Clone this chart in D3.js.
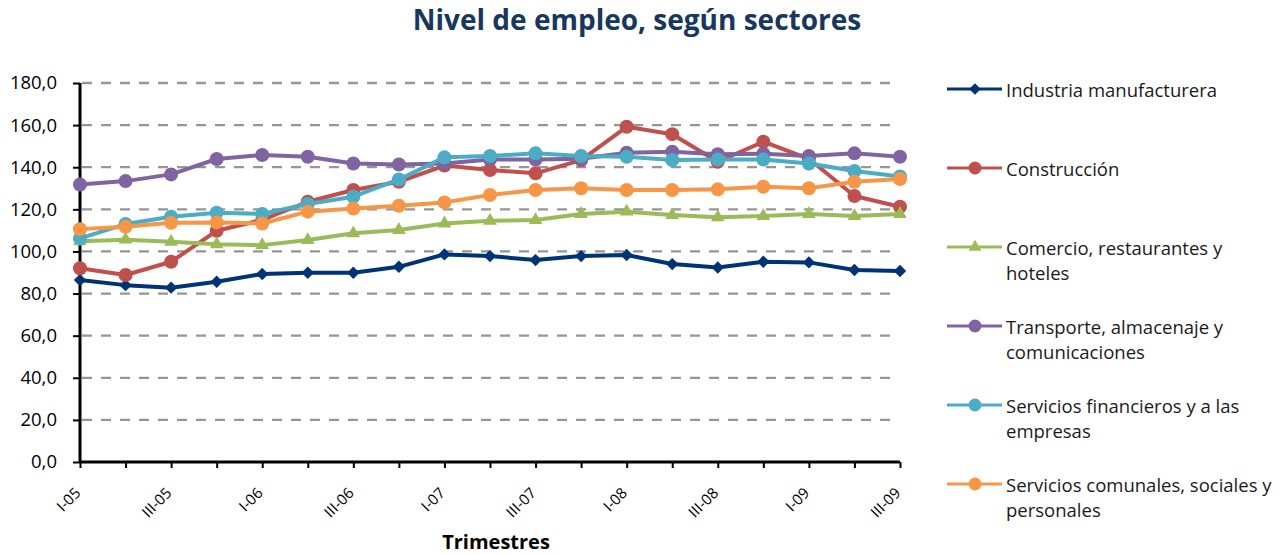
<!DOCTYPE html>
<html lang="es">
<head>
<meta charset="UTF-8">
<script src="https://d3js.org/d3.v7.min.js"></script>
<title>Nivel de empleo, según sectores</title>
<style>
  body { margin: 0; background: #fff; }
  text { font-family: "Open Sans", sans-serif; }
</style>
</head>
<body>
<script>
// quarters
var quarters = ["I-05","II-05","III-05","IV-05","I-06","II-06","III-06","IV-06",
                "I-07","II-07","III-07","IV-07","I-08","II-08","III-08","IV-08",
                "I-09","II-09","III-09"];
var yTicks = [0,20,40,60,80,100,120,140,160,180];

var industria   = [86.4,84.0,82.8,85.6,89.3,89.9,89.9,92.7,98.6,97.8,95.9,97.8,98.3,94.0,92.4,95.1,94.8,91.2,90.7];
var construccion= [92.0,88.8,95.1,109.8,115.0,123.6,129.2,133.1,140.8,138.7,137.1,143.4,159.2,155.7,142.6,152.1,144.0,126.3,121.2];
var comercio    = [104.8,105.6,104.6,103.4,103.0,105.4,108.6,110.2,113.3,114.6,114.9,117.8,118.9,117.3,116.2,116.8,117.8,116.8,117.8];
var transporte  = [131.8,133.4,136.6,143.9,145.8,145.0,141.8,141.3,141.8,143.7,143.7,144.0,146.9,147.4,146.2,146.4,145.3,146.6,145.0];
var financieros = [106.2,113.0,116.5,118.4,117.8,122.5,126.0,134.2,144.7,145.3,146.6,145.3,145.0,143.4,143.7,143.7,141.8,138.2,135.6];
var comunales   = [110.6,111.7,113.6,113.8,113.3,118.9,120.4,121.7,123.3,126.8,129.2,130.0,129.2,129.2,129.5,130.7,130.0,133.1,134.4];

var seriesNames = ["Industria manufacturera","Construcción","Comercio, restaurantes y hoteles",
                   "Transporte, almacenaje y comunicaciones","Servicios financieros y a las empresas",
                   "Servicios comunales, sociales y personales"];
var legendLines = [["Industria manufacturera"],["Construcción"],["Comercio, restaurantes y","hoteles"],
                   ["Transporte, almacenaje y","comunicaciones"],["Servicios financieros y a las","empresas"],
                   ["Servicios comunales, sociales y","personales"]];
var colors = ["#003376","#C0504D","#9BBB59","#8064A2","#4BACC6","#F79646"];
var shapes = ["diamond","circle","triangle","circle","circle","circle"];

var series = [industria, construccion, comercio, transporte, financieros, comunales].map(function(v,i){
  return {name: seriesNames[i], values: v, color: colors[i], shape: shapes[i], lines: legendLines[i]};
});

var width = 1283, height = 554;
var x0 = 80, x1 = 900, yTop = 83, yBot = 462;

var svg = d3.select("body").append("svg").attr("width", width).attr("height", height);

var x = d3.scalePoint().domain(quarters).range([x0, x1]);
var y = d3.scaleLinear().domain([0,180]).range([yBot, yTop]);

// title
svg.append("text").attr("x", 637).attr("y", 30).attr("text-anchor","middle")
   .style("font-size","28px").style("font-weight","bold").style("fill","#17375E")
   .text("Nivel de empleo, según sectores");

// gridlines
svg.append("g").selectAll("line").data(yTicks.filter(function(d){return d>0;})).enter().append("line")
   .attr("x1", 82).attr("x2", 894).attr("y1", function(d){return y(d);}).attr("y2", function(d){return y(d);})
   .style("stroke","#969696").style("stroke-width",2.3).style("stroke-dasharray","10,9");

// y axis
var yAxis = d3.axisLeft(y).tickValues(yTicks).tickSize(7).tickPadding(16)
   .tickFormat(function(d){ return d3.format(".1f")(d).replace(".", ","); });
var gy = svg.append("g").attr("transform","translate("+x0+",0)").call(yAxis);
gy.select(".domain").attr("d","M0,"+yTop+"V"+yBot).style("stroke","#000").style("stroke-width",3);
gy.selectAll(".tick line").style("stroke","#000").style("stroke-width",2);
gy.selectAll(".tick text").style("font-size","18.5px").style("fill","#000")
  .style("font-family","'Open Sans', sans-serif");

// x axis
var xAxis = d3.axisBottom(x).tickSize(6).tickPadding(6)
   .tickFormat(function(d,i){ return i % 2 === 0 ? d : ""; });
var gx = svg.append("g").attr("transform","translate(0,"+yBot+")").call(xAxis);
gx.select(".domain").attr("d","M"+x0+",0H"+x1).style("stroke","#000").style("stroke-width",3);
gx.selectAll(".tick line").style("stroke","#000").style("stroke-width",2);
gx.selectAll(".tick text").style("font-size","15px").style("fill","#000")
  .style("font-family","'Open Sans', sans-serif")
  .attr("text-anchor","end").attr("dy","0").attr("y",0)
  .attr("transform","translate(1,32) rotate(-45)");

// axis title
svg.append("text").attr("x", 496).attr("y", 549).attr("text-anchor","middle")
   .style("font-size","20px").style("font-weight","bold").style("fill","#000")
   .text("Trimestres");

var line = d3.line().x(function(d,i){return x(quarters[i]);}).y(function(d){return y(d);});

function marker(sel, shape, color, r) {
  if (shape === "circle") {
    sel.append("circle").attr("r", r).style("fill", color);
  } else if (shape === "diamond") {
    sel.append("path").attr("d", d3.symbol().type(d3.symbolDiamond2).size(2*r*r)).style("fill", color);
  } else {
    sel.append("path").attr("d", d3.symbol().type(d3.symbolTriangle).size(1.65*r*r)).style("fill", color);
  }
}

series.forEach(function(s){
  var g = svg.append("g");
  g.append("path").datum(s.values).attr("d", line)
   .style("fill","none").style("stroke", s.color).style("stroke-width",4).style("stroke-linejoin","round");
  g.selectAll("g.pt").data(s.values).enter().append("g").attr("class","pt")
   .attr("transform", function(d,i){ return "translate("+x(quarters[i])+","+y(d)+")"; })
   .each(function(){ marker(d3.select(this), s.shape, s.color, 7); });
});

// legend
var legendY = [89, 168, 247, 326, 405, 484];
series.forEach(function(s,i){
  var g = svg.append("g").attr("transform","translate(0,"+legendY[i]+")");
  g.append("line").attr("x1",947).attr("x2",1002).attr("y1",0).attr("y2",0)
   .style("stroke", s.color).style("stroke-width",3);
  var m = g.append("g").attr("transform","translate(975,0)");
  marker(m, s.shape, s.color, 6.5);
  s.lines.forEach(function(t,j){
    g.append("text").attr("x",1006).attr("y", 7.5 + j*25).style("font-size","18.5px").style("fill","#1a1a1a").text(t);
  });
});
</script>
</body>
</html>
